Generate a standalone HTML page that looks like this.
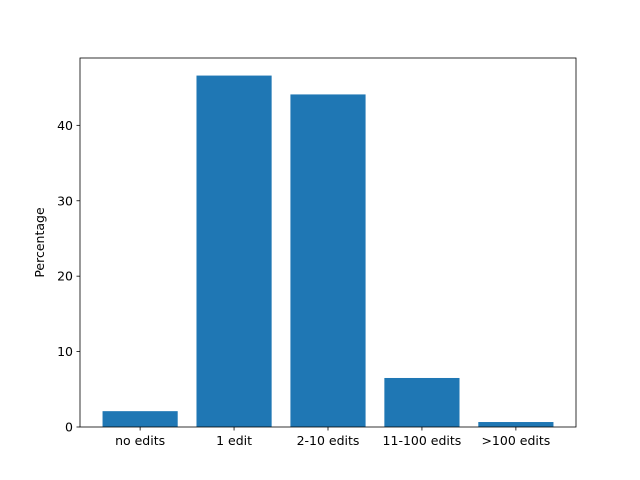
<!DOCTYPE html>
<html><head><meta charset="utf-8"><style>
body{margin:0;background:#fff;}
svg{display:block;font-family:"DejaVu Sans","Liberation Sans",sans-serif;}
</style></head><body>
<svg id="chart" width="640" height="480"></svg>
<script>
const categories = ["no edits","1 edit","2-10 edits","11-100 edits",">100 edits"];
const percentages = [2.1, 46.6, 44.1, 6.5, 0.66];
const yTicks = [0,10,20,30,40];
const yLabel = "Percentage";

const svg = document.getElementById('chart');
const NS = 'http://www.w3.org/2000/svg';
const L=80,R=576,T=58,B=427;
const ymax = Math.max(...percentages)*1.05;
const xmin=-0.64, xmax=categories.length-1+0.64;
const xs = v => L + (v-xmin)/(xmax-xmin)*(R-L);
const ys = v => B - v/ymax*(B-T);
function mk(tag, attrs, text){
  const e=document.createElementNS(NS,tag);
  for(const k in attrs) e.setAttribute(k,attrs[k]);
  if(text!==undefined) e.textContent=text;
  svg.appendChild(e); return e;
}
percentages.forEach((v,i)=>{
  const x0=xs(i-0.4), x1=xs(i+0.4);
  const r=mk('rect',{x:x0,y:ys(v),width:x1-x0,height:B-ys(v),fill:'#1f77b4'});
  
  
  const t=mk('line',{x1:xs(i),x2:xs(i),y1:B,y2:B+3.5,stroke:'#000','stroke-width':0.8});
  
  
  const lb=mk('text',{x:xs(i),y:B+18,'text-anchor':'middle','font-size':12.5},categories[i]);
  
  
});
yTicks.forEach(v=>{
  const t=mk('line',{x1:L-3.5,x2:L,y1:ys(v),y2:ys(v),stroke:'#000','stroke-width':0.8});
  
  
  const lb=mk('text',{x:L-7,y:ys(v)+4.5,'text-anchor':'end','font-size':12.5},String(v));
  
  
});
const frame=mk('rect',{x:L,y:T,width:R-L,height:B-T,fill:'none',stroke:'#000','stroke-width':0.8});


const yl=mk('text',{x:0,y:0,'text-anchor':'middle','font-size':12.5,transform:`translate(44,${(T+B)/2}) rotate(-90)`},yLabel);


</script>
</body></html>
